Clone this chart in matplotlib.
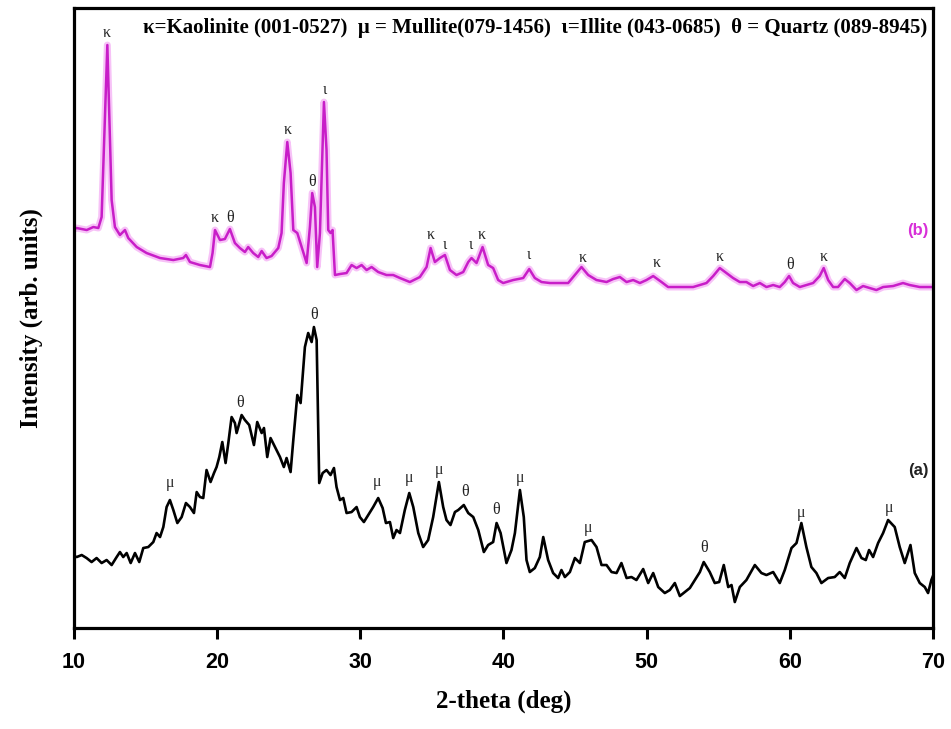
import matplotlib
matplotlib.use('Agg')
import numpy as np
import matplotlib.pyplot as plt

# ==============================================================================
# data: 2-theta (deg) and intensity (arb. units)
# ==============================================================================
x_b = [10.00, 10.19, 10.89, 11.35, 11.70, 11.93, 12.33, 12.63, 12.86, 13.21,
       13.56, 13.79, 14.38, 15.07, 16.01, 16.94, 17.63, 17.82, 18.10, 18.80,
       19.50, 19.68, 19.85, 20.20, 20.54, 20.89, 21.24, 21.59, 21.94, 22.17,
       22.52, 22.87, 23.11, 23.45, 23.80, 24.27, 24.50, 24.66, 24.90, 25.13,
       25.32, 25.60, 25.90, 26.25, 26.48, 26.64, 26.83, 26.99, 27.18, 27.46,
       27.64, 27.76, 27.92, 28.06, 28.23, 28.58, 29.04, 29.39, 29.74, 30.09,
       30.44, 30.79, 31.25, 31.83, 32.30, 32.77, 33.46, 34.16, 34.63, 34.91,
       35.21, 35.56, 35.91, 36.26, 36.72, 37.19, 37.54, 37.77, 38.12, 38.54,
       38.93, 39.28, 39.63, 39.98, 40.68, 41.38, 41.80, 42.19, 42.66, 43.24,
       43.94, 44.52, 44.99, 45.45, 45.92, 46.50, 47.20, 47.66, 48.13, 48.60,
       49.06, 49.53, 49.99, 50.46, 51.04, 51.50, 52.32, 53.25, 54.18, 54.65,
       55.11, 55.58, 56.04, 56.51, 56.97, 57.44, 57.91, 58.37, 58.84, 59.30,
       59.65, 59.95, 60.23, 60.70, 61.16, 61.63, 62.09, 62.37, 62.68, 63.03,
       63.37, 63.84, 64.19, 64.66, 65.12, 65.59, 66.05, 66.52, 67.22, 67.91,
       68.38, 69.08, 69.89, 70.00]
y_b = [399, 400, 398, 401, 400, 411, 583, 428, 401, 393,
       398, 390, 381, 375, 370, 368, 370, 373, 366, 363,
       361, 375, 398, 388, 389, 399, 385, 380, 376, 381,
       375, 371, 377, 370, 372, 380, 395, 445, 486, 455,
       398, 395, 381, 365, 401, 435, 421, 361, 395, 526,
       478, 398, 395, 398, 353, 354, 355, 363, 360, 363,
       358, 361, 356, 353, 353, 350, 346, 351, 361, 380,
       366, 370, 373, 358, 353, 356, 366, 370, 365, 381,
       363, 360, 348, 345, 348, 350, 359, 350, 346, 345,
       345, 345, 353, 361, 353, 348, 346, 349, 351, 346,
       348, 345, 348, 352, 346, 341, 341, 341, 345, 352,
       360, 355, 350, 346, 346, 342, 345, 341, 343, 341,
       346, 352, 345, 341, 343, 345, 352, 360, 348, 341,
       341, 349, 345, 338, 342, 340, 338, 341, 342, 345,
       343, 341, 341, 341]

x_a = [10.00, 10.19, 10.54, 10.88, 11.23, 11.58, 11.93, 12.28, 12.63, 12.98,
       13.21, 13.44, 13.68, 13.96, 14.26, 14.56, 14.84, 15.19, 15.54, 15.77,
       16.01, 16.24, 16.47, 16.70, 16.94, 17.22, 17.52, 17.82, 18.10, 18.38,
       18.57, 18.80, 19.03, 19.26, 19.54, 19.78, 19.96, 20.15, 20.36, 20.59,
       20.78, 21.01, 21.24, 21.36, 21.71, 21.94, 22.24, 22.57, 22.80, 23.11,
       23.27, 23.50, 23.73, 24.04, 24.39, 24.66, 24.85, 25.13, 25.32, 25.60,
       25.83, 26.13, 26.36, 26.60, 26.76, 26.95, 27.13, 27.37, 27.64, 27.92,
       28.16, 28.34, 28.58, 28.81, 29.04, 29.39, 29.74, 29.97, 30.25, 30.55,
       30.90, 31.25, 31.56, 31.79, 32.07, 32.30, 32.53, 32.77, 33.11, 33.42,
       33.70, 34.05, 34.39, 34.74, 35.09, 35.49, 35.79, 36.02, 36.30, 36.61,
       36.84, 37.23, 37.54, 37.89, 38.24, 38.63, 38.93, 39.28, 39.52, 39.80,
       40.21, 40.56, 40.80, 41.15, 41.42, 41.61, 41.84, 42.19, 42.54, 42.78,
       43.12, 43.47, 43.82, 44.05, 44.29, 44.64, 44.99, 45.34, 45.68, 46.15,
       46.50, 46.85, 47.20, 47.55, 47.90, 48.24, 48.60, 48.94, 49.29, 49.76,
       50.11, 50.46, 50.81, 51.27, 51.62, 51.97, 52.32, 52.67, 53.02, 53.37,
       53.72, 53.99, 54.41, 54.76, 55.07, 55.39, 55.70, 55.93, 56.16, 56.51,
       56.97, 57.56, 58.02, 58.37, 58.84, 59.30, 59.65, 60.12, 60.47, 60.81,
       61.16, 61.51, 61.86, 62.21, 62.68, 63.14, 63.49, 63.84, 64.19, 64.66,
       65.01, 65.31, 65.54, 65.82, 66.17, 66.52, 66.87, 67.33, 67.68, 68.03,
       68.43, 68.73, 69.08, 69.43, 69.66, 69.89, 70.00]
y_a = [72, 71, 73, 70, 66, 70, 65, 68, 63, 71,
       76, 71, 75, 65, 75, 66, 80, 81, 86, 95,
       91, 101, 121, 128, 118, 105, 111, 125, 121, 115,
       136, 131, 130, 158, 146, 155, 161, 171, 186, 165,
       185, 211, 205, 195, 213, 208, 203, 183, 206, 195,
       200, 171, 190, 181, 171, 161, 170, 156, 188, 233,
       225, 281, 295, 286, 301, 288, 145, 155, 158, 153,
       160, 141, 128, 130, 115, 116, 121, 111, 106, 113,
       121, 130, 120, 105, 106, 90, 98, 95, 118, 135,
       121, 95, 81, 88, 111, 146, 121, 108, 103, 116,
       118, 123, 115, 111, 98, 76, 83, 86, 105, 95,
       65, 78, 95, 138, 111, 68, 56, 60, 71, 91,
       68, 55, 50, 58, 51, 56, 70, 65, 86, 88,
       81, 63, 63, 56, 55, 65, 50, 51, 48, 59,
       45, 55, 41, 35, 38, 45, 32, 36, 40, 48,
       56, 66, 56, 45, 46, 63, 41, 43, 26, 41,
       48, 63, 55, 53, 56, 45, 58, 80, 85, 105,
       81, 61, 55, 45, 50, 51, 56, 50, 65, 80,
       70, 68, 78, 71, 85, 95, 108, 101, 81, 65,
       83, 55, 45, 41, 35, 48, 52]

# phase symbols: (2-theta, height, symbol)
labels_b = [(12.3, 595, '\u03ba'), (19.85, 410, '\u03ba'), (20.9, 410, '\u03b8'),
            (24.9, 498, '\u03ba'), (26.6, 446, '\u03b8'), (27.5, 538, '\u03b9'),
            (34.9, 393, '\u03ba'), (35.9, 383, '\u03b9'), (37.7, 383, '\u03b9'),
            (38.5, 393, '\u03ba'), (41.8, 373, '\u03b9'), (45.5, 370, '\u03ba'),
            (50.7, 365, '\u03ba'), (55.1, 371, '\u03ba'), (60.0, 363, '\u03b8'),
            (62.4, 371, '\u03ba')]
labels_a = [(16.7, 145, '\u03bc'), (21.6, 225, '\u03b8'), (26.76, 313, '\u03b8'),
            (31.2, 146, '\u03bc'), (33.4, 150, '\u03bc'), (35.5, 158, '\u03bc'),
            (37.3, 136, '\u03b8'), (39.5, 118, '\u03b8'), (41.15, 150, '\u03bc'),
            (45.9, 100, '\u03bc'), (54.0, 80, '\u03b8'), (60.8, 115, '\u03bc'),
            (66.9, 120, '\u03bc')]

header = ('\u03ba=Kaolinite (001-0527)  \u03bc = Mullite(079-1456)  '
          '\u03b9=Illite (043-0685)  \u03b8 = Quartz (089-8945)')

serif = ['Liberation Serif', 'DejaVu Serif']
sans = ['Liberation Sans', 'DejaVu Sans']

fig = plt.figure(figsize=(9.51, 7.29), dpi=100)
ax = fig.add_axes([0.0778, 0.1385, 0.9032, 0.8505])

# magenta trace with a soft halo
ax.plot(x_b, y_b, color='#f4a8f4', lw=5, alpha=0.7, solid_joinstyle='round')
ax.plot(x_b, y_b, color='#c81ec8', lw=1.8, solid_joinstyle='round')
ax.plot(x_a, y_a, color='black', lw=1.9, solid_joinstyle='round')

for xx, yy, s in labels_b + labels_a:
    ax.text(xx, yy, s, ha='center', va='center', fontsize=11.5,
            family=serif, color='#222222')

ax.text(69.7, 398, '(b)', ha='right', va='center', fontsize=12,
        fontweight='bold', color='#d830d8', family=sans)
ax.text(69.7, 158, '(a)', ha='right', va='center', fontsize=12,
        fontweight='bold', color='#222222', family=sans)

ax.text(0.537, 0.968, header, transform=ax.transAxes, ha='center',
        va='center', fontsize=15, fontweight='bold', family=serif)

ax.set_xlim(10, 70)
ax.set_ylim(0, 620)
ax.set_xticks(np.arange(10, 71, 10))
ax.set_yticks([])
ax.tick_params(axis='x', direction='out', length=8, width=2.2, pad=9,
               top=False)
for lab in ax.get_xticklabels():
    lab.set_fontsize(15.5)
    lab.set_fontweight('bold')
    lab.set_family(sans)
for sp in ax.spines.values():
    sp.set_linewidth(2.3)

ax.set_xlabel('2-theta (deg)', fontsize=18, fontweight='bold', family=serif,
              labelpad=12)
ax.set_ylabel('Intensity (arb. units)', fontsize=18, fontweight='bold',
              family=serif, labelpad=22)

fig.savefig('out.png', dpi=100)
